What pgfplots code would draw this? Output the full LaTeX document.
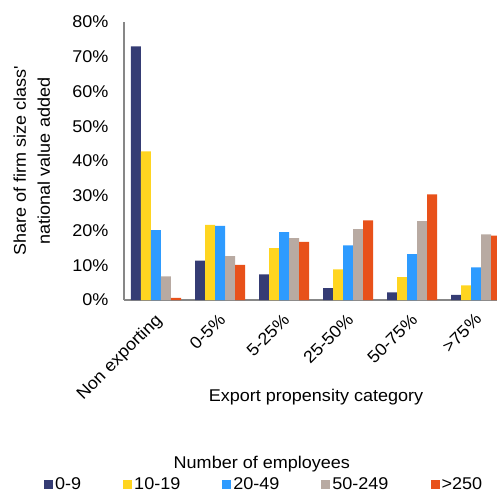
\documentclass[border=0pt]{standalone}
\usepackage{pgfplots}
\pgfplotsset{compat=1.18}
\usepackage{fontspec}
\setmainfont[FakeStretch=1.06]{Liberation Sans}
\definecolor{cA}{HTML}{353C74}
\definecolor{cB}{HTML}{FFD520}
\definecolor{cC}{HTML}{2E9BFF}
\definecolor{cD}{HTML}{B8AAA2}
\definecolor{cE}{HTML}{E8511A}
\definecolor{axgray}{HTML}{878787}
\newcommand{\fs}{\fontsize{17}{24}\selectfont}
\begin{document}
\begin{tikzpicture}
\begin{axis}[
  scale only axis, width=384pt, height=278pt,
  xmin=-0.5, xmax=5.5, ymin=0, ymax=80,
  ybar=0pt, bar width=10pt,
  axis x line*=bottom, axis y line*=left,
  x axis line style={axgray, line width=1.8pt, -},
  y axis line style={axgray, line width=1.2pt, -},
  major tick length=0pt,
  xtick={0,1,2,3,4,5},
  xticklabels={Non exporting, 0-5\%, 5-25\%, 25-50\%, 50-75\%, >75\%},
  xticklabel style={font=\fs, xshift=-2pt, yshift=-12pt, rotate=45, anchor=north east, inner sep=0pt},
  ytick={0,10,20,30,40,50,60,70,80},
  yticklabels={0\%,10\%,20\%,30\%,40\%,50\%,60\%,70\%,80\%},
  yticklabel style={font=\fs, xshift=-12pt},
  xlabel={Export propensity category},
  xlabel style={font=\fs, at={(axis description cs:0.5,-0.349)}, anchor=center},
  ylabel={Share of firm size class\textquotesingle\\national value added},
  ylabel style={font=\fs, align=center, at={(axis description cs:-0.24,0.5)}, anchor=center},
  legend columns=5,
  legend style={draw=none, fill=none, font=\fs, at={(axis description cs:0.365,-0.662)}, anchor=center,
    /tikz/every even column/.append style={column sep=40pt}},
  legend image code/.code={\fill[#1] (0pt,-4.5pt) rectangle (9pt,4.5pt);},
  clip=false,
]
\addplot[fill=cA, draw=none] coordinates {(0,73) (1,11.3) (2,7.4) (3,3.4) (4,2.2) (5,1.5)};
\addplot[fill=cB, draw=none] coordinates {(0,42.8) (1,21.6) (2,14.9) (3,8.8) (4,6.6) (5,4.2)};
\addplot[fill=cC, draw=none] coordinates {(0,20.1) (1,21.3) (2,19.5) (3,15.7) (4,13.2) (5,9.4)};
\addplot[fill=cD, draw=none] coordinates {(0,6.8) (1,12.6) (2,17.8) (3,20.4) (4,22.7) (5,18.9)};
\addplot[fill=cE, draw=none] coordinates {(0,0.6) (1,10.1) (2,16.7) (3,22.9) (4,30.4) (5,18.5)};
\legend{0-9,10-19,20-49,50-249,>250}
\node[font=\fs] at (axis description cs:0.359,-0.59) {Number of employees};
\coordinate (O) at (rel axis cs:0,0);
\end{axis}
\pgfresetboundingbox
\path[use as bounding box] ([shift={(-124pt,-193pt)}]O) rectangle ++(497pt,493pt);
\end{tikzpicture}
\end{document}
